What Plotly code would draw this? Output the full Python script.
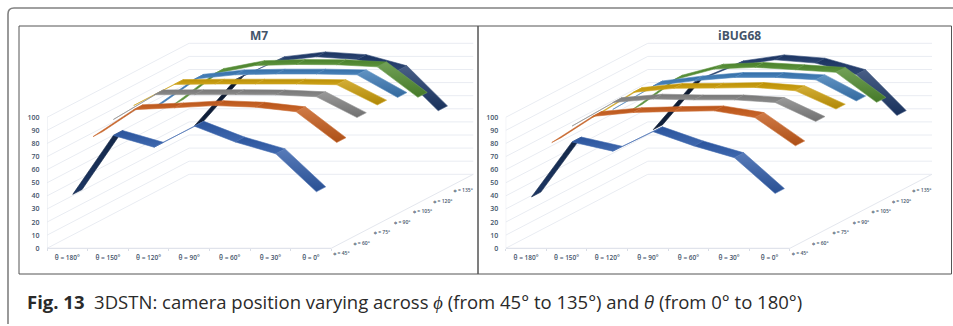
import plotly.graph_objects as go

THETA_LABELS = ["θ = 180°", "θ = 150°", "θ = 120°", "θ = 90°", "θ = 60°", "θ = 30°", "θ = 0°"]
PHI_LABELS = ["ϕ = 45°", "ϕ = 60°", "ϕ = 75°", "ϕ = 90°", "ϕ = 105°", "ϕ = 120°", "ϕ = 135°"]
Y_TICKS = [0, 10, 20, 30, 40, 50, 60, 70, 80, 90, 100]

M7_PHI45 = [39, 84, 75, 91, 79, 70, 41]
M7_PHI60 = [75, 95.6, 97, 98.7, 97.5, 94, 70.5]
M7_PHI75 = [80, 98.9, 99, 99, 98.8, 97.4, 81.5]
M7_PHI90 = [82.6, 98.7, 99, 99, 99, 98.5, 83]
M7_PHI105 = [73, 94.7, 98, 98.6, 98.6, 98, 80.7]
M7_PHI120 = [67.5, 91, 97, 97.8, 97.6, 96, 72.7]
M7_PHI135 = [43, 78, 92, 95.6, 93.5, 85, 54.4]

IB_PHI45 = [37, 79, 72, 86.8, 76, 67, 39.7]
IB_PHI60 = [70.5, 90.4, 93.4, 94.2, 94.7, 89.6, 68]
IB_PHI75 = [75, 93, 95.6, 95, 95, 93, 78.5]
IB_PHI90 = [73.5, 92.6, 95.7, 95.9, 96.4, 93.9, 79.9]
IB_PHI105 = [71.5, 89.6, 93.4, 96, 96, 94.2, 78]
IB_PHI120 = [63.7, 86, 94.3, 95.6, 93.8, 91.8, 68.9]
IB_PHI135 = [40, 76, 88.8, 93.3, 90.8, 82, 50.8]

M7 = [M7_PHI45, M7_PHI60, M7_PHI75, M7_PHI90, M7_PHI105, M7_PHI120, M7_PHI135]
IB = [IB_PHI45, IB_PHI60, IB_PHI75, IB_PHI90, IB_PHI105, IB_PHI120, IB_PHI135]
COLORS = ["#2f5ba8", "#c55a1a", "#808080", "#c99a06", "#3a78b4", "#4f8a2e", "#1c3768"]

W, H = 953, 326
CAT_PX = 40.6
PX_V = 1.31
DX = 0.5        # x shift per depth level (category units)
DV = 8.07       # vertical shift per depth level (value units)
RIB = 0.46      # ribbon depth
Y0_PX = 248.3
TOP_PX, BOT_PX = 26, 274


def shade(c, f):
    r, g, b = int(c[1:3], 16), int(c[3:5], 16), int(c[5:7], 16)
    if f <= 1:
        r, g, b = r * f, g * f, b * f
    else:
        t = f - 1
        r, g, b = r + (255 - r) * t, g + (255 - g) * t, b + (255 - b) * t
    return f"rgb({int(r)},{int(g)},{int(b)})"


def px(x):
    return x / W


def py(y):
    return 1 - y / H


fig = go.Figure()
panels = [("x", "y", "xaxis", "yaxis", 47.0, 478.0, M7, "M7", 259),
          ("x2", "y2", "xaxis2", "yaxis2", 505.7, 951.0, IB, "iBUG68", 739)]

for xa, ya, xn, yn, left, right, data, title, tx in panels:
    gx, gy = [], []
    for v in Y_TICKS:
        gx += [-0.5, -0.5 + 7 * DX, 6.5 + 7 * DX, None]
        gy += [v, v + 7 * DV, v + 7 * DV, None]
    fig.add_trace(go.Scatter(x=gx, y=gy, mode="lines", xaxis=xa, yaxis=ya, hoverinfo="skip",
                             line=dict(color="#e9ecf2", width=1), showlegend=False))
    fig.add_trace(go.Scatter(x=[-0.5, -0.5, None, 6.5, 6.5 + 7 * DX], y=[0, 100, None, 0, 7 * DV], mode="lines",
                             xaxis=xa, yaxis=ya, hoverinfo="skip",
                             line=dict(color="#e4e7ee", width=1), showlegend=False))
    fig.add_trace(go.Scatter(x=[-0.5, 6.5], y=[0, 0], mode="lines", xaxis=xa, yaxis=ya, hoverinfo="skip",
                             line=dict(color="#d9dde6", width=1), showlegend=False))
    for d in range(6, -1, -1):
        vals, col = data[d], COLORS[d]
        d0, d1 = d + 0.5 - RIB / 2, d + 0.5 + RIB / 2
        for c in range(6):
            a, b = vals[c], vals[c + 1]
            dv = b - a
            xs = [c + DX * d0, c + 1 + DX * d0, c + 1 + DX * d1, c + DX * d1, c + DX * d0]
            ys = [a + DV * d0, b + DV * d0, b + DV * d1, a + DV * d1, a + DV * d0]
            if dv >= 25:
                top, bot = shade(col, 0.42), shade(col, 0.6)
            elif dv <= -14:
                top, bot = shade(col, 1.2), shade(col, 0.88)
            else:
                top, bot = shade(col, 0.93), shade(col, 1.08)
            fig.add_trace(go.Scatter(
                x=xs, y=ys, mode="lines", fill="toself",
                fillgradient=dict(type="vertical", colorscale=[[0, bot], [1, top]]),
                line=dict(color=shade(col, 1.1) if -14 < dv < 25 else top, width=0.6),
                xaxis=xa, yaxis=ya, hoverinfo="skip", showlegend=False))
    fig.add_trace(go.Scatter(
        x=[6.5 + DX * (d + 0.5) for d in range(7)],
        y=[DV * (d + 0.5) - 8.5 for d in range(7)],
        text=PHI_LABELS, mode="text", textposition="middle center",
        textfont=dict(size=5, color="#44546a", family="Open Sans", weight=600),
        xaxis=xa, yaxis=ya, hoverinfo="skip", showlegend=False, cliponaxis=False))

    xlo = -0.5
    xhi = -0.5 + (right - left) / CAT_PX
    axis_x = dict(domain=[left / W, right / W], range=[xlo, xhi], tickmode="array", tickvals=list(range(7)),
                  ticktext=THETA_LABELS, showgrid=False, zeroline=False, showline=False,
                  ticks="outside", ticklen=3, tickcolor="rgba(0,0,0,0)",
                  tickfont=dict(size=6.5, color="#44546a", family="Open Sans", weight=600),
                  minor=dict(tickmode="array", tickvals=[i - 0.5 for i in range(8)], ticks="outside",
                             ticklen=2, tickcolor="#d9dde6", showgrid=False),
                  anchor="free", position=py(Y0_PX), fixedrange=True)
    axis_y = dict(domain=[py(BOT_PX), py(TOP_PX)],
                  range=[(Y0_PX - BOT_PX) / PX_V, (Y0_PX - TOP_PX) / PX_V], tickmode="array",
                  tickvals=Y_TICKS, showgrid=False, zeroline=False, showline=False,
                  ticks="outside", ticklen=5, tickcolor="rgba(0,0,0,0)",
                  tickfont=dict(size=7, color="#44546a", family="Open Sans", weight=600),
                  anchor=xa, fixedrange=True)
    fig.update_layout(**{xn: axis_x, yn: axis_y})
    fig.add_annotation(x=px(tx), y=py(35), xref="paper", yref="paper", text=f"<b>{title}</b>", showarrow=False,
                       font=dict(size=12, color="#44546a", family="Open Sans"), xanchor="center", yanchor="middle")

LINE = dict(color="#555555", width=1)
OUT = dict(color="#808080", width=1.6)
shapes = [
    dict(type="rect", xref="paper", yref="paper", x0=px(19), x1=px(478), y0=py(BOT_PX), y1=py(TOP_PX), line=LINE),
    dict(type="rect", xref="paper", yref="paper", x0=px(478), x1=px(951.5), y0=py(BOT_PX), y1=py(TOP_PX), line=LINE),
    dict(type="line", xref="paper", yref="paper", x0=px(14), x1=px(953), y0=py(8), y1=py(8), line=OUT),
    dict(type="line", xref="paper", yref="paper", x0=px(8), x1=px(8), y0=py(14), y1=py(324), line=OUT),
    dict(type="path", xref="paper", yref="paper",
         path=f"M {px(8)} {py(14)} Q {px(8)} {py(8)} {px(14)} {py(8)}", line=OUT),
]
fig.update_layout(shapes=shapes)

fig.add_annotation(x=px(25), y=py(301.5), xref="paper", yref="paper", showarrow=False, xanchor="left", yanchor="middle",
                   text="<b>Fig. 13</b>  3DSTN: camera position varying across <i>ϕ</i> (from 45° to 135°) and <i>θ</i> (from 0° to 180°)",
                   font=dict(size=18.5, color="#2a2a2a", family="Open Sans"))

fig.update_layout(width=W, height=H, margin=dict(l=0, r=0, t=0, b=0), paper_bgcolor="white",
                  plot_bgcolor="white", showlegend=False, autosize=False)
fig.write_html("out.html", config={"displayModeBar": False},
               post_script="document.body.style.margin='0';document.documentElement.style.overflow='hidden';")
